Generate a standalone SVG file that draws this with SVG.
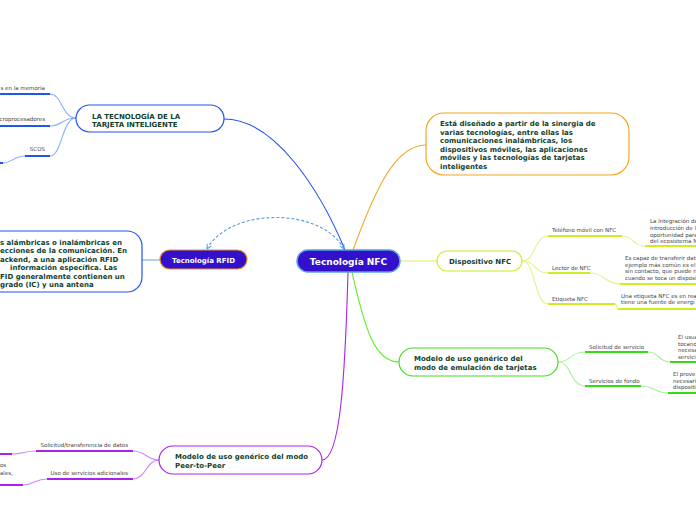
<svg xmlns="http://www.w3.org/2000/svg" width="696" height="520" viewBox="0 0 696 520">
<defs>
<style>
.bt{font-family:"DejaVu Sans",Verdana,sans-serif;font-weight:bold;fill:#123f2e;font-size:7px}
.wt{font-family:"DejaVu Sans",Verdana,sans-serif;font-weight:bold;fill:#ffffff}
.st{font-family:"DejaVu Sans",Verdana,sans-serif;fill:#444444;font-size:5.5px}
.c{fill:none;stroke-width:1.1}
.u{fill:none;stroke-width:2}
</style>
<marker id="ah" viewBox="0 0 10 10" refX="9" refY="5" markerWidth="6" markerHeight="6" orient="auto-start-reverse" markerUnits="userSpaceOnUse">
<path d="M1,1 L9,5 L1,9" fill="none" stroke="#5599dd" stroke-width="1.5"/>
</marker>
</defs>
<rect width="696" height="520" fill="#ffffff"/>
<g id="connectors">
<path class="c" d="M224,119 C275,119 320,190 345,250" stroke="#2255ee" stroke-width="1.3"/>
<path class="c" d="M344,249 C322,207 230,207 207,249" stroke="#5599dd" stroke-dasharray="3,2" marker-start="url(#ah)" marker-end="url(#ah)"/>
<path class="c" d="M353,250 C375,190 395,145 426,145" stroke="#f5a623" stroke-width="1.3"/>
<path class="c" d="M400,261 L437,261" stroke="#ddf066" stroke-width="1.3"/>
<path class="c" d="M352,272 C365,330 375,362 399,362" stroke="#55ee22" stroke-width="1.3"/>
<path class="c" d="M348,272 C345,380 340,460 322,460" stroke="#aa22ee" stroke-width="1.3"/>
<path class="c" d="M160,260 L142,260" stroke="#77aaee" stroke-width="1.3"/>
<!-- tarjeta branches -->
<g stroke="#88aaff">
<path class="c" d="M76,118 C62,118 62,94 50,94"/>
<path class="c" d="M76,118 C62,118 62,126 50,126"/>
<path class="c" d="M76,118 C62,118 62,156 50,156"/>
<path class="c" d="M25,156 C14,156 12,163 2,163"/>
</g>
<g stroke="#2255ee">
<path class="u" d="M0,94 H50"/>
<path class="u" d="M0,126 H50"/>
<path class="u" d="M25,156 H50"/>
<path class="u" d="M0,163 H3"/>
</g>
<!-- dispositivo branches -->
<g stroke="#e2f48a">
<path class="c" d="M522,261 C536,261 534,236 548,236"/>
<path class="c" d="M522,261 C536,261 534,273 548,273"/>
<path class="c" d="M522,261 C536,261 534,304 548,304"/>
<path class="c" d="M622,236 C635,236 632,246 645,246"/>
<path class="c" d="M590,273 C605,273 605,284 620,284"/>
<path class="c" d="M615,304 C618,304 615,309 619,309"/>
</g>
<g stroke="#ccee22">
<path class="u" d="M548,236 H622"/>
<path class="u" d="M548,273 H590"/>
<path class="u" d="M548,304 H615"/>
<path class="u" d="M645,246 H696"/>
<path class="u" d="M620,284 H696"/>
<path class="u" d="M618,309 H696"/>
</g>
<!-- emulacion branches -->
<g stroke="#aaf0a0">
<path class="c" d="M558,362 C572,362 570,352 585,352"/>
<path class="c" d="M558,362 C572,362 570,386 585,386"/>
<path class="c" d="M648,352 C660,352 658,362 670,362"/>
<path class="c" d="M641,386 C655,386 654,393 668,393"/>
</g>
<g stroke="#33dd11">
<path class="u" d="M585,352 H648"/>
<path class="u" d="M585,386 H641"/>
<path class="u" d="M670,362 H696"/>
<path class="u" d="M668,393 H696"/>
</g>
<!-- peer branches -->
<g stroke="#cc88ff">
<path class="c" d="M159,460 C146,460 146,451 133,451"/>
<path class="c" d="M159,460 C146,460 146,479 133,479"/>
<path class="c" d="M36,451 C25,451 23,454 12,454"/>
<path class="c" d="M47,479 C35,479 34,485 23,485"/>
</g>
<g stroke="#aa22ee">
<path class="u" d="M36,451 H133"/>
<path class="u" d="M47,479 H133"/>
<path class="u" d="M0,454 H12"/>
<path class="u" d="M0,485 H23"/>
</g>
</g>
<g id="nfc">
<rect x="297" y="250" width="103" height="22" rx="11" fill="#3311cc" stroke="#5aa0e0" stroke-width="1.5"/>
<text class="wt" x="348.5" y="264.5" font-size="9" text-anchor="middle">Tecnología NFC</text>
</g>
<g id="rfid">
<rect x="160" y="250" width="87" height="19" rx="9.5" fill="#3311cc" stroke="#e8902a" stroke-width="1.2"/>
<text class="wt" x="203.5" y="262.5" font-size="7" text-anchor="middle">Tecnología RFID</text>
</g>
<g id="tarjeta">
<rect x="76" y="105" width="148" height="27" rx="13.5" fill="#ffffff" stroke="#2255ee" stroke-width="1.2"/>
<text class="bt" x="92" y="118.5">LA TECNOLOGÍA DE LA</text>
<text class="bt" x="92" y="127">TARJETA INTELIGENTE</text>
</g>
<g id="tarjeta-items">
<text class="st" x="45" y="90" text-anchor="end">s en la memoria</text>
<text class="st" x="45" y="121" text-anchor="end">croprocesadores</text>
<text class="st" x="45" y="151" text-anchor="end">SCOS</text>
</g>
<g id="rfid-desc">
<rect x="-20" y="231" width="162" height="61" rx="15" fill="#ffffff" stroke="#2255ee" stroke-width="1.2"/>
<text class="bt" x="0" y="244.5">s alámbricas o inalámbricas en</text>
<text class="bt" x="0" y="253">ecciones de la comunicación. En</text>
<text class="bt" x="0" y="261.5">ackend, a una aplicación RFID</text>
<text class="bt" x="10" y="270">información específica. Las</text>
<text class="bt" x="0" y="278.5">FID generalmente contienen un</text>
<text class="bt" x="0" y="287">grado (IC) y una antena</text>
</g>
<g id="sinergia">
<rect x="426" y="113" width="203" height="62" rx="18" fill="#ffffff" stroke="#f5a623" stroke-width="1.2"/>
<text class="bt" x="440" y="126">Está diseñado a partir de la sinergia de</text>
<text class="bt" x="440" y="134.5">varias tecnologías, entre ellas las</text>
<text class="bt" x="440" y="143">comunicaciones inalámbricas, los</text>
<text class="bt" x="440" y="151.5">dispositivos móviles, las aplicaciones</text>
<text class="bt" x="440" y="160">móviles y las tecnologías de tarjetas</text>
<text class="bt" x="440" y="168.5">inteligentes</text>
</g>
<g id="dispositivo">
<rect x="437" y="251" width="85" height="20" rx="10" fill="#ffffff" stroke="#ccee22" stroke-width="1.2"/>
<text class="bt" x="449" y="264">Dispositivo NFC</text>
</g>
<g id="dispositivo-items">
<text class="st" x="552" y="232">Teléfono móvil con NFC</text>
<text class="st" x="552" y="270">Lector de NFC</text>
<text class="st" x="552" y="301">Etiqueta NFC</text>
<text class="st" x="650" y="223">La integración de</text>
<text class="st" x="650" y="230">introducción de l</text>
<text class="st" x="650" y="237">oportunidad para</text>
<text class="st" x="650" y="243">del ecosistema N</text>
<text class="st" x="625" y="260">Es capaz de transferir dat</text>
<text class="st" x="625" y="266.5">ejemplo más común es el</text>
<text class="st" x="625" y="273">sin contacto, que puede n</text>
<text class="st" x="625" y="279.5">cuando se toca un disposi</text>
<text class="st" x="621" y="298">Una etiqueta NFC es en rea</text>
<text class="st" x="621" y="304">tiene una fuente de energí</text>
</g>
<g id="emulacion">
<rect x="399" y="348" width="159" height="28" rx="14" fill="#ffffff" stroke="#44dd22" stroke-width="1.2"/>
<text class="bt" x="414" y="361">Modelo de uso genérico del</text>
<text class="bt" x="414" y="370">modo de emulación de tarjetas</text>
</g>
<g id="emulacion-items">
<text class="st" x="589" y="349">Solicitud de servicio</text>
<text class="st" x="589" y="383">Servicios de fondo</text>
<text class="st" x="678" y="339">El usua</text>
<text class="st" x="678" y="345.5">tocand</text>
<text class="st" x="678" y="352">necesa</text>
<text class="st" x="678" y="358.5">servici</text>
<text class="st" x="673" y="376">El prove</text>
<text class="st" x="673" y="382.5">necesari</text>
<text class="st" x="673" y="389">dispositi</text>
</g>
<g id="peer">
<rect x="159" y="446" width="163" height="28" rx="14" fill="#ffffff" stroke="#aa22ee" stroke-width="1.2"/>
<text class="bt" x="175" y="459">Modelo de uso genérico del modo</text>
<text class="bt" x="175" y="468">Peer-to-Peer</text>
</g>
<g id="peer-items">
<text class="st" x="128" y="447" text-anchor="end">Solicitud/transferencia de datos</text>
<text class="st" x="128" y="475" text-anchor="end">Uso de servicios adicionales</text>
<text class="st" x="0" y="467">os</text>
<text class="st" x="0" y="475">ales,</text>
</g>
</svg>
